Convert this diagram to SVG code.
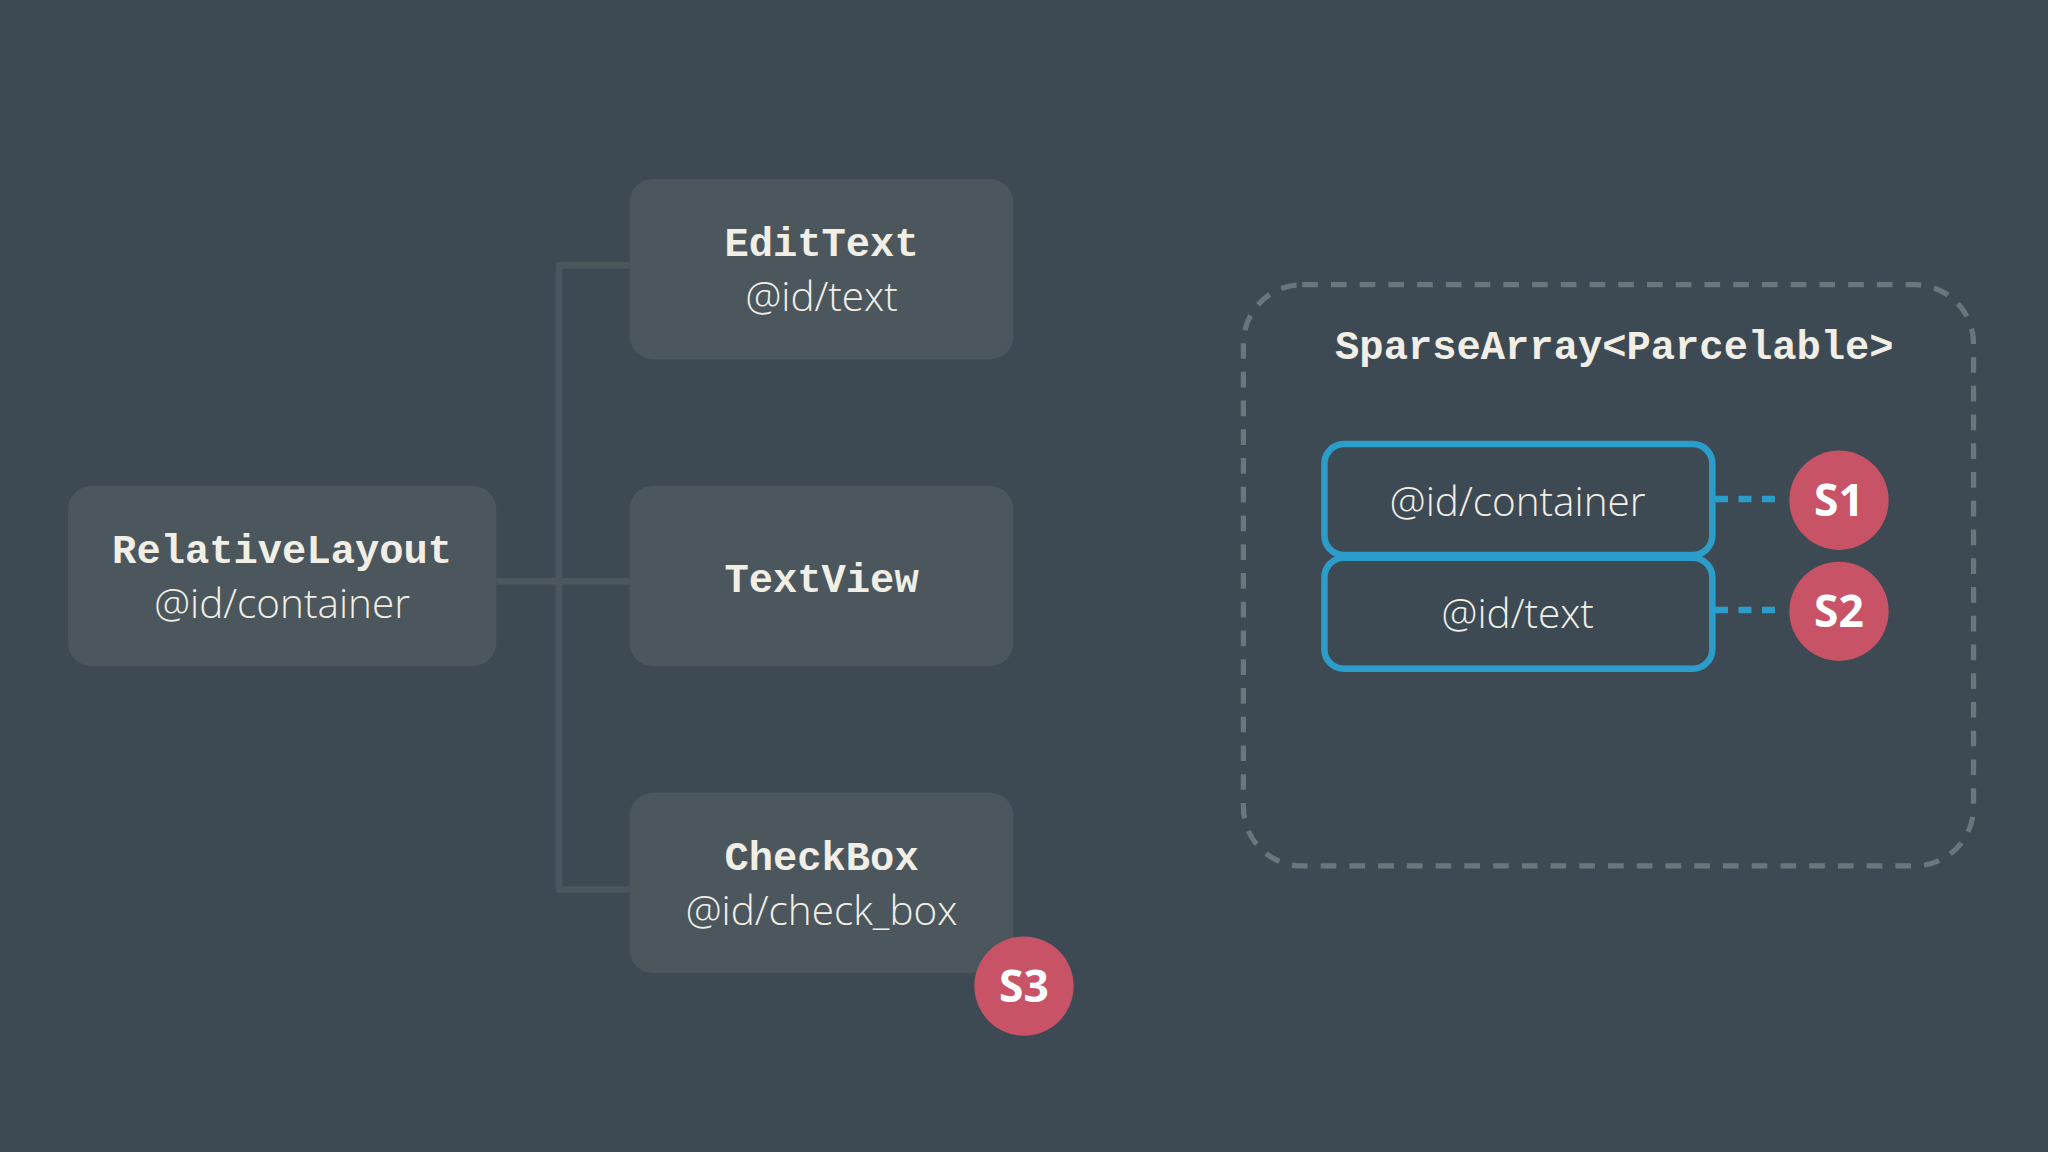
<svg xmlns="http://www.w3.org/2000/svg" width="2048" height="1152" viewBox="0 0 2048 1152">
<style>
.node{fill:#4b575d}
.mono{font-family:"Liberation Mono","DejaVu Sans Mono",monospace;font-weight:bold;font-size:31px;fill:#f1eee6;text-anchor:middle}
.sans{font-family:"Open Sans","Noto Sans",sans-serif;font-weight:300;font-size:31px;fill:#f1eee6;text-anchor:middle}
.badge{fill:#c95366}
.bt{font-family:"Open Sans","Noto Sans",sans-serif;font-weight:bold;font-size:34px;fill:#fff;text-anchor:middle}
.conn{stroke:#4b575d;stroke-width:5;fill:none}
.blue{fill:none;stroke:#2b9dca;stroke-width:5}
.bdash{stroke:#2b9dca;stroke-width:5;stroke-dasharray:10 8}
</style>
<rect width="2048" height="1152" fill="#3d4a53"/>
<g transform="scale(1.30612)">
<g id="connectors">
<path class="conn" d="M380 445H482M426 445V445M428 203V681M426 203H482M426 681H482"/>
</g>
<g id="relativelayout"><rect class="node" x="52" y="372" width="328" height="138" rx="18"/><text class="mono" x="216" y="431">RelativeLayout</text><text class="sans" x="216" y="473">@id/container</text></g>
<g id="edittext"><rect class="node" x="482" y="137" width="294" height="138" rx="18"/><text class="mono" x="629" y="196">EditText</text><text class="sans" x="629" y="238">@id/text</text></g>
<g id="textview"><rect class="node" x="482" y="372" width="294" height="138" rx="18"/><text class="mono" x="629" y="453">TextView</text></g>
<g id="checkbox"><rect class="node" x="482" y="607" width="294" height="138" rx="18"/><text class="mono" x="629" y="666">CheckBox</text><text class="sans" x="629" y="708">@id/check_box</text></g>
<g id="s3"><circle class="badge" cx="784" cy="755" r="38"/><text class="bt" x="784" y="767">S3</text></g>
<g id="sparsearray"><rect x="952" y="218" width="559" height="445" rx="45" fill="none" stroke="#6b767c" stroke-width="4" stroke-dasharray="12 10"/><text class="mono" x="1236" y="275">SparseArray&lt;Parcelable&gt;</text></g>
<g id="entry-container"><rect class="blue" x="1014" y="340" width="297" height="85" rx="15"/><text class="sans" x="1162" y="395">@id/container</text></g>
<g id="entry-text"><rect class="blue" x="1014" y="427" width="297" height="85" rx="15"/><text class="sans" x="1162" y="481">@id/text</text></g>
<g id="links"><path class="bdash" d="M1313 382H1365M1313 467H1365"/></g>
<g id="s1"><circle class="badge" cx="1408" cy="383" r="38"/><text class="bt" x="1408" y="395">S1</text></g>
<g id="s2"><circle class="badge" cx="1408" cy="468" r="38"/><text class="bt" x="1408" y="480">S2</text></g>
</g>
</svg>
